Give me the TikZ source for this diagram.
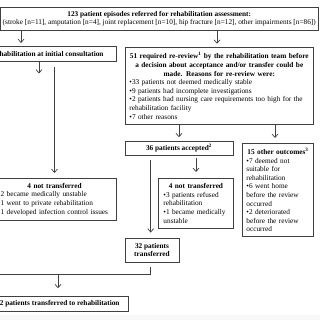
\documentclass[tikz,border=0pt]{standalone}
\usepackage{fontspec}
\setmainfont{Liberation Serif}
\usetikzlibrary{arrows.meta}

\newcommand{\ctrline}[1]{\noindent\hbox to\hsize{\hfil#1\hfil}}

\begin{document}
\begin{tikzpicture}[x=1pt, y=-1pt,
  every node/.style={font=\fontsize{7.3}{8.6}\selectfont},
  box/.style={draw=black!75, line width=0.9pt, inner ysep=0pt},
  arrow/.style={-{Straight Barb[length=3.4pt,width=6pt]}, draw=black!75, line width=0.7pt, shorten >=3pt},
  link/.style={draw=black!75, line width=0.7pt}
]
\path[use as bounding box, clip] (0,0) rectangle (320,320);
\fill[black!3] (0,315) rectangle (320,320);

\node[box, minimum width=317.5pt, minimum height=22.7pt, inner xsep=1pt, align=center] (refer) at (159.25,18.65) {\textbf{123 patient episodes referred for rehabilitation assessment:}\\(stroke [n=11], amputation [n=4], joint replacement [n=10], hip fracture [n=12], other impairments [n=86])};

% LEFT SIDE
\node[box, anchor=east, minimum height=15pt, inner xsep=13pt] (consult) at (117,54) {\textbf{habilitation at initial consultation}};

\node[box, anchor=north east, text width=108pt, inner xsep=8pt, minimum height=42pt, align=left] (notleft) at (117,178) {\ctrline{\textbf{4 not transferred}}\\2 became medically unstable\\1 went to private rehabilitation\\1 developed infection control issues};

\node[box, anchor=east, minimum height=14.8pt, inner xsep=9pt] (final) at (129,304.1) {\textbf{2 patients transferred to rehabilitation}};

% RIGHT SIDE
\node[box, anchor=north west, text width=179.7pt, inner xsep=4pt, minimum height=77.3pt, align=left] (rereview) at (125,46.7) {\ctrline{\textbf{51 required re-review\textsuperscript{1} by the rehabilitation team before}}\\\ctrline{\textbf{a decision about acceptance and/or transfer could be}}\\\ctrline{\textbf{made. Reasons for re-review were:}}\\•33 patients not deemed medically stable\\•9 patients had incomplete investigations\\•2 patients had nursing care requirements too high for the\\rehabilitation facility\\•7 other reasons};

\node[box, minimum width=108pt, minimum height=13.3pt] (accepted) at (179,148.35) {\textbf{36 patients accepted\textsuperscript{2}}};

\node[box, anchor=north west, text width=63pt, inner xsep=4pt, minimum height=93pt, align=left] (other) at (242,143) {\ctrline{\textbf{15 other outcomes\textsuperscript{3}}}\\•7 deemed not\\suitable for\\rehabilitation\\•6 went home\\before the review\\occurred\\•2 deteriorated\\before the review\\occurred};

\node[box, anchor=north west, text width=65pt, inner xsep=5pt, minimum height=50pt, align=left] (notmid) at (158,178) {\ctrline{\textbf{4 not transferred}}\\•3 patients refused\\rehabilitation\\•1 became medically\\unstable};

\node[box, minimum width=54pt, minimum height=24pt, align=center] (transferred) at (152,250) {\textbf{32 patients}\\\textbf{transferred}};

\coordinate (consultdrop) at (39,73.5);
\coordinate (merge) at (58,274);
\coordinate (leftin) at (-5,274);

\draw[arrow] (refer.south -| 21,0) -- (consult.north -| 21,0);
\draw[arrow] (refer.south -| 217,0) -- (rereview.north -| 217,0);
\draw[arrow, shorten >=0pt] (consult.south -| consultdrop) -- (consultdrop);
\draw[arrow, shorten <=5.5pt, shorten >=5pt] (consult.south -| 54.5,0) -- (notleft.north -| 54.5,0);
\draw[arrow, shorten >=4pt] (rereview.south -| accepted.north) -- (accepted.north);
\draw[arrow, shorten >=5pt] (rereview.south -| 275,0) -- (other.north -| 275,0);
\draw[arrow, shorten <=3pt, shorten >=6pt] (accepted.south -| 196,0) -- (notmid.north -| 196,0);
\draw[arrow, shorten <=5pt, shorten >=5pt] (accepted.south -| 150.7,0) -- (transferred.north -| 150.7,0);

% MERGE
\draw[link, shorten <=5pt] (transferred.south -| 150.7,0) |- (leftin);
\draw[arrow, shorten >=8pt] (merge) -- (final.north -| merge);

\end{tikzpicture}
\end{document}
